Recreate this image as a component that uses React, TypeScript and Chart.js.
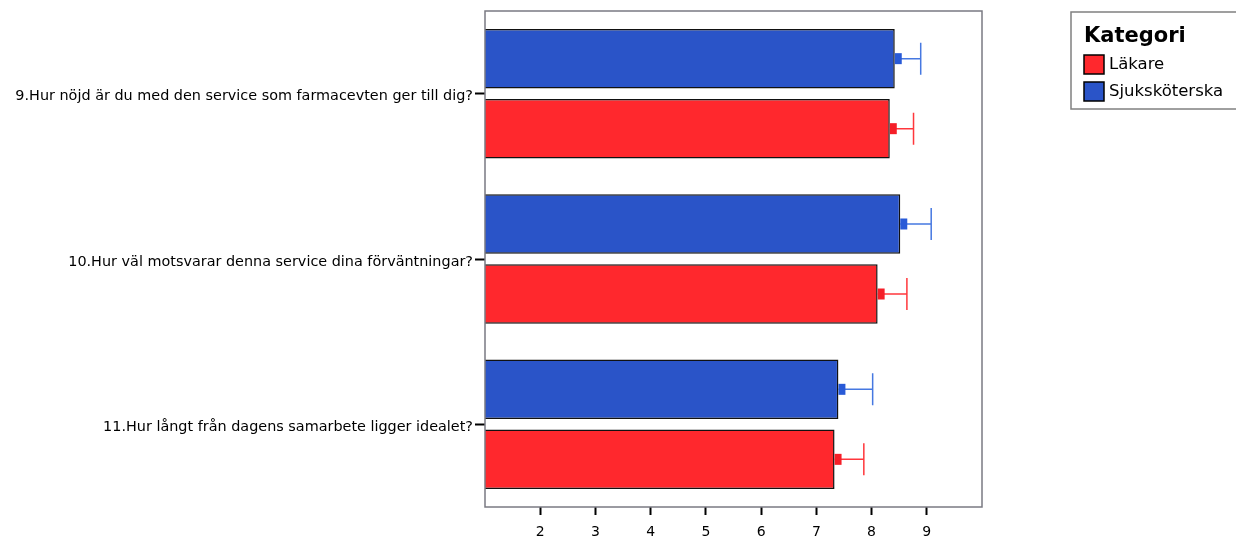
import React, { useEffect, useRef } from "react";
import { Chart, registerables } from "chart.js";

Chart.register(...registerables);

const categories = [
  "9.Hur nöjd är du med den service som farmacevten ger till dig?",
  "10.Hur väl motsvarar denna service dina förväntningar?",
  "11.Hur långt från dagens samarbete ligger idealet?",
];
const sjukskoterskaMean = [8.42, 8.52, 7.40];
const sjukskoterskaUpper = [8.89, 9.08, 8.02];
const lakareMean = [8.33, 8.11, 7.33];
const lakareUpper = [8.76, 8.64, 7.86];
const xTicks = [2, 3, 4, 5, 6, 7, 8, 9];
const legendTitle = "Kategori";
const legendItems = ["Läkare", "Sjuksköterska"];

const BLUE = "rgb(42,84,200)";
const RED = "rgb(255,40,45)";
const BLUE_ERR = "rgb(70,120,225)";
const RED_ERR = "rgb(255,55,60)";
const BLUE_MARK = "rgb(40,90,215)";
const RED_MARK = "rgb(245,30,40)";

const upperByDataset = [sjukskoterskaUpper, lakareUpper];
const errColors = [BLUE_ERR, RED_ERR];
const markColors = [BLUE_MARK, RED_MARK];

const errorBarPlugin = {
  id: "errorBars",
  afterDatasetsDraw(chart: any) {
    const ctx = chart.ctx;
    const xs = chart.scales.x;
    chart.data.datasets.forEach((ds: any, i: number) => {
      const meta = chart.getDatasetMeta(i);
      meta.data.forEach((bar: any, j: number) => {
        const x0 = xs.getPixelForValue(ds.data[j]);
        const x1 = xs.getPixelForValue(upperByDataset[i][j]);
        const y = bar.y;
        ctx.save();
        ctx.strokeStyle = errColors[i];
        ctx.lineWidth = 1.5;
        ctx.beginPath();
        ctx.moveTo(x0, y);
        ctx.lineTo(x1, y);
        ctx.moveTo(x1, y - 16);
        ctx.lineTo(x1, y + 16);
        ctx.stroke();
        ctx.fillStyle = markColors[i];
        ctx.fillRect(x0, y - 5.5, 7, 11);
        ctx.restore();
      });
    });
  },
};

const framePlugin = {
  id: "frameAndLegend",
  afterDraw(chart: any) {
    const ctx = chart.ctx;
    const a = chart.chartArea;
    ctx.save();
    ctx.strokeStyle = "#7a7a82";
    ctx.lineWidth = 1.5;
    ctx.strokeRect(a.left, a.top, a.right - a.left, a.bottom - a.top);

    // legend box
    const lx = 1071;
    const ly = 12;
    ctx.strokeStyle = "#808080";
    ctx.lineWidth = 1.5;
    ctx.strokeRect(lx, ly, 200, 97);
    ctx.fillStyle = "#000";
    ctx.textBaseline = "middle";
    ctx.textAlign = "left";
    ctx.font = "bold 21px 'DejaVu Sans', sans-serif";
    ctx.fillText(legendTitle, 1084, 37);
    const colors = [RED, BLUE];
    const ys = [55, 82];
    legendItems.forEach((t, i) => {
      ctx.fillStyle = colors[i];
      ctx.fillRect(1084, ys[i], 20, 19);
      ctx.strokeStyle = "#000";
      ctx.lineWidth = 1.5;
      ctx.strokeRect(1084, ys[i], 20, 19);
      ctx.fillStyle = "#000";
      ctx.font = "16.5px 'DejaVu Sans', sans-serif";
      ctx.fillText(t, 1109, ys[i] + 10);
    });
    ctx.restore();
  },
};

export default function App() {
  const ref = useRef<HTMLCanvasElement>(null);
  useEffect(() => {
    if (!ref.current) return;
    const chart = new Chart(ref.current, {
      type: "bar",
      data: {
        labels: categories,
        datasets: [
          {
            label: legendItems[1],
            data: sjukskoterskaMean,
            backgroundColor: BLUE,
            borderColor: "#111",
            borderWidth: 1.5,
            borderSkipped: false,
            categoryPercentage: 0.847,
            barPercentage: 0.85,
          },
          {
            label: legendItems[0],
            data: lakareMean,
            backgroundColor: RED,
            borderColor: "#111",
            borderWidth: 1.5,
            borderSkipped: false,
            categoryPercentage: 0.847,
            barPercentage: 0.85,
          },
        ],
      },
      options: {
        indexAxis: "y",
        responsive: false,
        animation: false,
        devicePixelRatio: 1,
        layout: { padding: { left: 0, right: 254, top: 11, bottom: 0 } },
        plugins: {
          legend: { display: false },
          tooltip: { enabled: false },
        },
        scales: {
          x: {
            type: "linear",
            min: 1,
            max: 10,
            afterBuildTicks(scale: any) {
              scale.ticks = xTicks.map((v) => ({ value: v }));
            },
            afterFit(scale: any) {
              scale.height = 31;
            },
            border: { display: false },
            grid: {
              drawOnChartArea: false,
              drawTicks: true,
              tickLength: 8,
              tickWidth: 2,
              tickColor: "#000",
              color: "#000",
            },
            ticks: {
              color: "#000",
              padding: 9,
              font: { family: "'DejaVu Sans', sans-serif", size: 14 },
            },
          },
          y: {
            afterFit(scale: any) {
              scale.width = 485;
            },
            border: { display: false },
            grid: {
              offset: false,
              drawOnChartArea: false,
              drawTicks: true,
              tickLength: 10,
              tickWidth: 2,
              tickColor: "#000",
              color: "#000",
            },
            ticks: {
              color: "#000",
              padding: 2,
              labelOffset: 3,
              font: { family: "'DejaVu Sans', sans-serif", size: 14.4 },
            },
          },
        },
      },
      plugins: [errorBarPlugin, framePlugin],
    } as any);
    return () => chart.destroy();
  }, []);
  return (
    <div style={{ position: "absolute", left: 0, top: 0, width: 1236, height: 538, background: "#fff" }}>
      <canvas ref={ref} width={1236} height={538} style={{ display: "block" }} />
    </div>
  );
}
